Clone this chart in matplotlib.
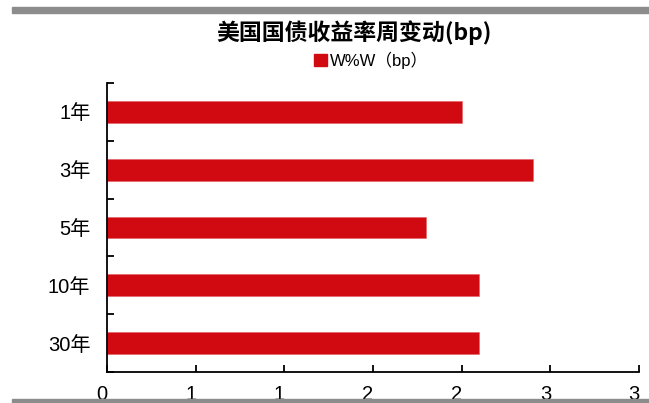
import numpy as np
import matplotlib.pyplot as plt
from matplotlib.patches import Rectangle, Patch
from matplotlib.transforms import ScaledTranslation

plt.rcParams['font.family'] = ['Liberation Sans', 'Noto Sans CJK SC', 'DejaVu Sans']

# 数据
categories = ['1年', '3年', '5年', '10年', '30年']
wow_bp = [2.0, 2.4, 1.8, 2.1, 2.1]
x_ticks = [0, 0.5, 1.0, 1.5, 2.0, 2.5, 3.0]
x_tick_labels = ['0', '1', '1', '2', '2', '3', '3']

bar_color = '#D10A11'
gray = '#8C8C8C'

fig = plt.figure(figsize=(6.49, 4.03), dpi=100)
ax = fig.add_axes([107 / 649, 1 - 372 / 403, (639 - 107) / 649, (372 - 83) / 403])

pos = np.arange(len(categories))
ax.barh(pos, wow_bp, height=0.38, color=bar_color, edgecolor='#E06065', linewidth=0.4)
ax.set_ylim(len(categories) - 0.5, -0.5)
ax.set_xlim(0, 3)

ax.set_yticks(pos)
ax.set_yticklabels(categories, fontsize=14.5)
ax.set_yticks(np.arange(-0.5, len(categories)), minor=True)
ax.tick_params(axis='y', which='major', length=0, pad=12)
ax.tick_params(axis='y', which='minor', direction='in', length=5, width=1.3)

ax.set_xticks(x_ticks)
ax.set_xticklabels(x_tick_labels, fontsize=14.5)
ax.tick_params(axis='x', direction='in', length=5, width=1.3, pad=9.5)
shift = ScaledTranslation(-5 / 100, 0, fig.dpi_scale_trans)
for lab in ax.get_xticklabels():
    lab.set_transform(lab.get_transform() + shift)

for s in ['top', 'right']:
    ax.spines[s].set_visible(False)
for s in ['left', 'bottom']:
    ax.spines[s].set_linewidth(1.3)
    ax.spines[s].set_color('black')

# 标题与图例
fig.text(0.545, 1 - 33 / 403, '美国国债收益率周变动(bp)', ha='center', va='center',
         fontsize=16.5, fontweight='bold', family=['Noto Sans CJK SC', 'DejaVu Sans'])
fig.legend(handles=[Patch(color=bar_color, label='W%W（bp）')], loc='center',
           bbox_to_anchor=(371 / 649, 1 - 60 / 403), frameon=False, fontsize=12,
           handlelength=0.75, handleheight=0.75, handletextpad=0.2, borderaxespad=0)

# 上下灰色横条
fig.patches.append(Rectangle((12 / 649, 1 - 13 / 403), 1, 6 / 403, transform=fig.transFigure,
                             color=gray, zorder=10))
fig.patches.append(Rectangle((12 / 649, 0), 1, 4.5 / 403, transform=fig.transFigure,
                             color=gray, zorder=10))

fig.savefig('out.png', dpi=100)
